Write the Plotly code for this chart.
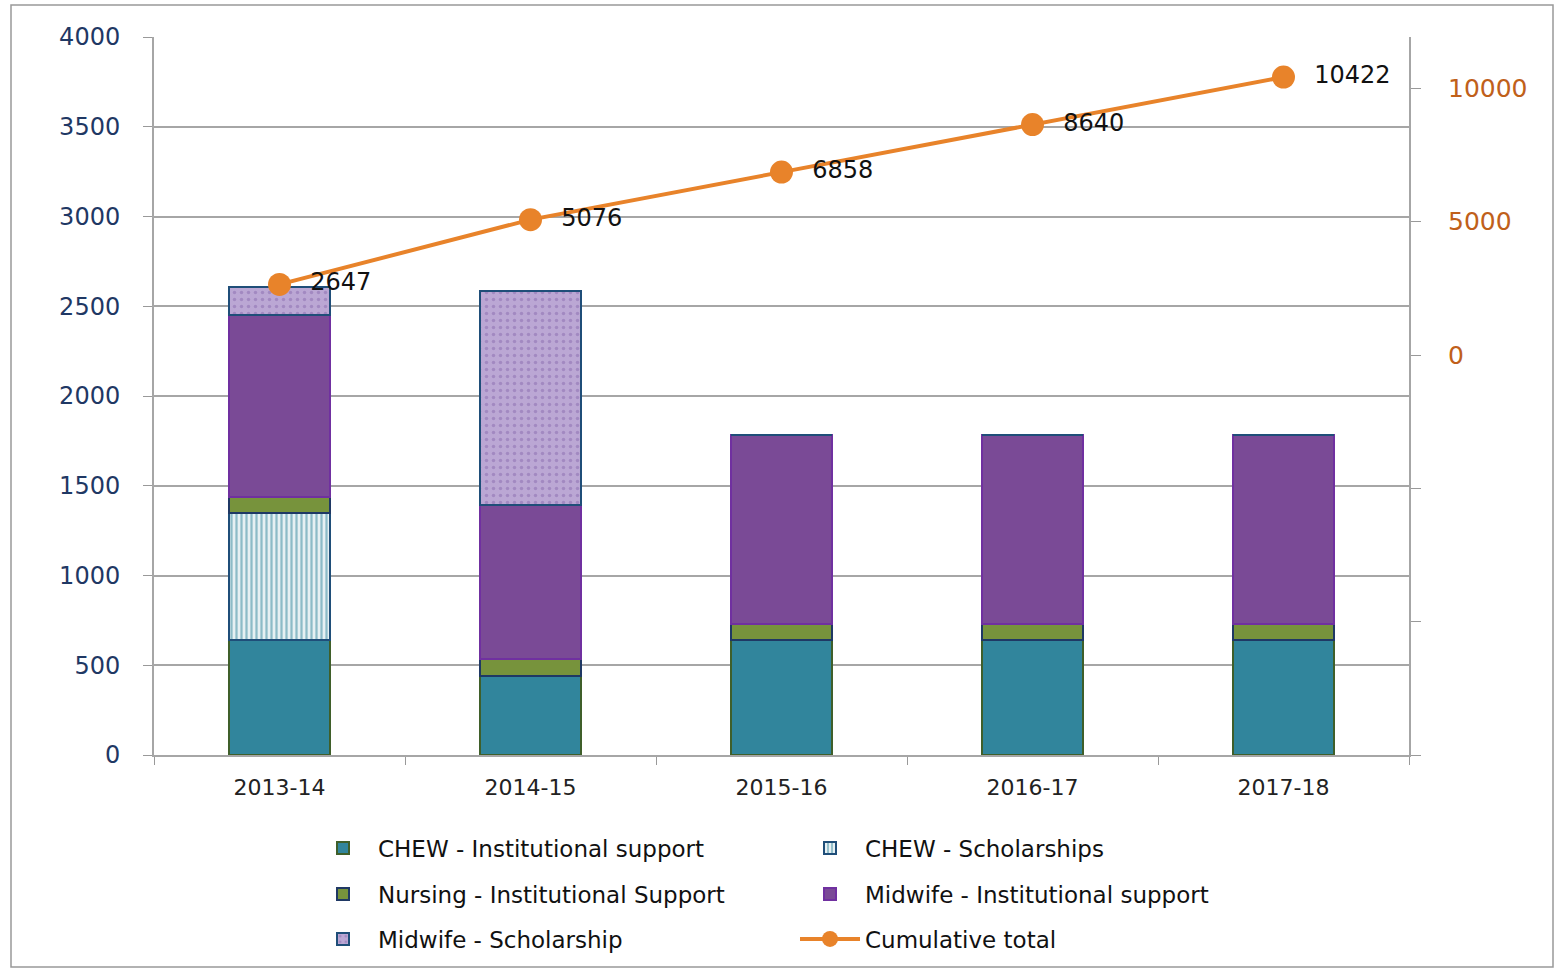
import plotly.graph_objects as go

years = ["2013-14", "2014-15", "2015-16", "2016-17", "2017-18"]
chew_inst = [640, 440, 640, 640, 640]
chew_schol = [710, 0, 0, 0, 0]
nursing_inst = [90, 95, 90, 90, 90]
midwife_inst = [1010, 860, 1055, 1055, 1055]
midwife_schol = [160, 1190, 0, 0, 0]
cumulative = [2647, 5076, 6858, 8640, 10422]

W, H = 1556, 970
L, R, T, B = 154, 1409, 37, 755

fig = go.Figure()
fig.add_trace(go.Bar(x=years, y=chew_inst, name="CHEW - Institutional support", legend="legend",
                     marker=dict(color="#31859C", line=dict(color="#3F5F2A", width=2))))
fig.add_trace(go.Bar(x=years, y=chew_schol, name="CHEW - Scholarships", legend="legend",
                     marker=dict(color="#DDEBF0", line=dict(color="#1F4E79", width=2),
                                 pattern=dict(shape="|", fgcolor="#31859C", bgcolor="#E6F0F3",
                                              size=5, solidity=0.45))))
fig.add_trace(go.Bar(x=years, y=nursing_inst, name="Nursing - Institutional Support", legend="legend2",
                     marker=dict(color="#77933C", line=dict(color="#1F3864", width=2))))
fig.add_trace(go.Bar(x=years, y=midwife_inst, name="Midwife - Institutional support", legend="legend2",
                     marker=dict(color="#7A4A96", line=dict(color="#7030A0", width=2))))
fig.add_trace(go.Bar(x=years, y=midwife_schol, name="Midwife - Scholarship", legend="legend3",
                     marker=dict(color="#B9A3D3", line=dict(color="#1F4E79", width=2),
                                 pattern=dict(shape=".", fgcolor="#8A6BAE", bgcolor="#BBA7D4",
                                              size=7, solidity=0.2))))
fig.add_trace(go.Scatter(x=years, y=cumulative, name="Cumulative total", yaxis="y2", legend="legend3",
                         mode="lines+markers+text",
                         line=dict(color="#E8832A", width=4),
                         marker=dict(color="#E8832A", size=23),
                         text=["  " + str(v) for v in cumulative],
                         textposition="middle right",
                         textfont=dict(family="DejaVu Sans", size=24, color="#111111")))

legend_common = dict(orientation="h", xref="container", yref="container",
                     xanchor="left", yanchor="middle",
                     entrywidth=412, entrywidthmode="pixels",
                     traceorder="normal", bgcolor="rgba(0,0,0,0)",
                     font=dict(family="DejaVu Sans", size=23, color="#111111"),
                     itemwidth=60)

fig.update_layout(
    width=W, height=H,
    margin=dict(l=L, r=W - R, t=T, b=H - B),
    barmode="stack",
    bargap=0.594,
    paper_bgcolor="white",
    plot_bgcolor="white",
    showlegend=True,
    xaxis=dict(type="category", tickson="boundaries", ticks="outside", ticklen=8,
               tickcolor="#999999", showline=True, linecolor="#A6A6A6", linewidth=2,
               showgrid=False, ticklabelstandoff=12,
               tickfont=dict(family="DejaVu Sans", size=22, color="#222222")),
    yaxis=dict(range=[0, 4000], tickvals=[0, 500, 1000, 1500, 2000, 2500, 3000, 3500, 4000],
               showgrid=True, gridcolor="#A6A6A6", gridwidth=1.5,
               showline=True, linecolor="#A6A6A6", linewidth=2,
               ticks="outside", ticklen=9, tickcolor="#999999",
               zeroline=False,
               tickfont=dict(family="DejaVu Sans", size=24, color="#1F3864"),
               ticklabelstandoff=18),
    yaxis2=dict(overlaying="y", side="right", range=[-15000, 11925],
                tickvals=[-15000, -10000, -5000, 0, 5000, 10000],
                ticktext=["", "", "", "0", "5000", "10000"],
                showgrid=False, zeroline=False,
                showline=True, linecolor="#A6A6A6", linewidth=2,
                ticks="outside", ticklen=10, tickcolor="#999999",
                tickfont=dict(family="DejaVu Sans", size=25, color="#C0601A"),
                ticklabelstandoff=22),
    legend=dict(legend_common, x=308 / W, y=1 - 848 / H),
    legend2=dict(legend_common, x=308 / W, y=1 - 894 / H),
    legend3=dict(legend_common, x=308 / W, y=1 - 939 / H),
    shapes=[dict(type="rect", xref="paper", yref="paper",
                 x0=(11 - L) / (R - L), x1=(1553 - L) / (R - L),
                 y0=(B - 967) / (B - T), y1=(B - 5) / (B - T),
                 line=dict(color="#999999", width=1.5), fillcolor="rgba(0,0,0,0)",
                 layer="below")],
)

fig.write_html("out.html")
